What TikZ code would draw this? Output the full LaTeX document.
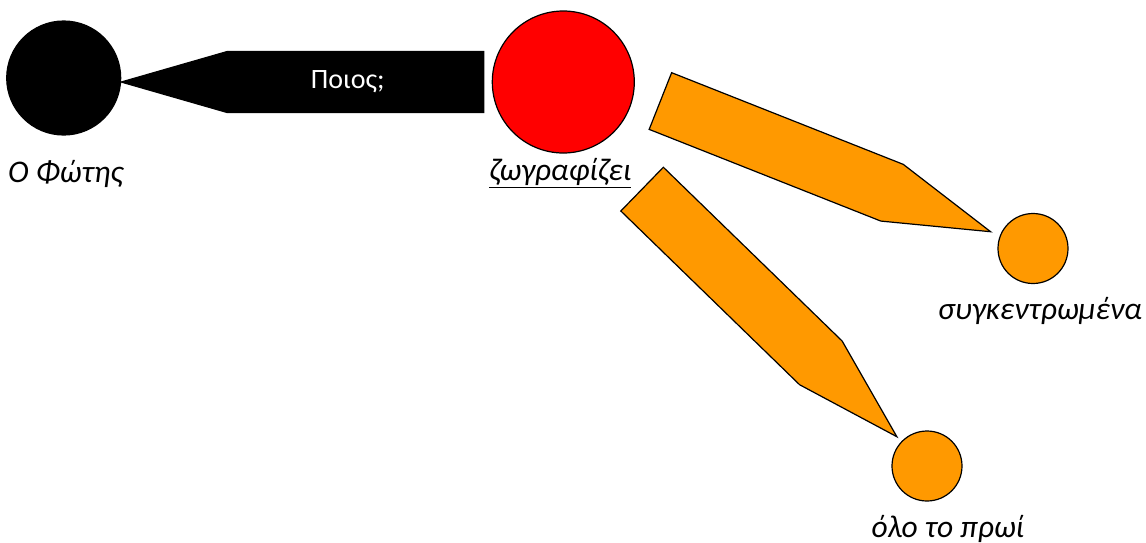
\documentclass[tikz,border=0pt]{standalone}
\usepackage{fontspec}
\setmainfont{Carlito}
\usetikzlibrary{calc,positioning}
\definecolor{amber}{RGB}{255,153,0}

% wedge connector: #1 name, #2 style, #3 from, #4 to, #5 gap at start, #6 gap at end
\newcommand{\wedgelink}[6]{%
  \coordinate (#1-b) at ($(#3)!#5!(#4)$);
  \coordinate (#1-t) at ($(#4)!#6!(#3)$);
  \coordinate (#1-s) at ($(#1-t)!106pt!(#1-b)$);
  \draw[#2] ($(#1-b)!30.5pt!90:(#1-t)$) -- ($(#1-s)!30.5pt!-90:(#1-b)$) -- (#1-t)
    -- ($(#1-s)!30.5pt!90:(#1-b)$) -- ($(#1-b)!30.5pt!-90:(#1-t)$) -- cycle;
}

\begin{document}
\begin{tikzpicture}[
      x=1pt, y=-1pt,
      spot/.style={circle, draw=black, line width=1.2pt, inner sep=0pt},
      lbl/.style={font=\fontsize{31.5}{38}\selectfont\itshape, inner sep=0pt},
      dark/.style={fill=black, draw=black, line width=1.2pt, line join=miter},
      warm/.style={fill=amber, draw=black, line width=1.2pt, line join=miter}
    ]
    \useasboundingbox (0,0) rectangle (1146,542);

    \node[spot, fill=black, minimum size=114pt] (fotis) at (63.7,78) {};
    \node[spot, fill=red, minimum size=142pt] (draws) at (563.3,82) {};
    \node[spot, fill=amber, minimum size=70pt] (focus) at (1033,248.5) {};
    \node[spot, fill=amber, minimum size=70pt] (morning) at (927,466) {};

    \node[lbl, below=25pt of fotis, xshift=2pt] (fotislbl) {Ο Φώτης};
    \node[lbl, below=5pt of draws, xshift=-3pt] (drawslbl) {\underline{ζωγραφίζει}};
    \node[lbl, below=13pt of focus, xshift=7pt] (focuslbl) {συγκεντρωμένα};
    \node[lbl, below=14pt of morning, xshift=21pt] (morninglbl) {όλο το πρωί};

    \wedgelink{who}{dark}{draws.west}{fotis.356}{8pt}{0pt}
    \wedgelink{how}{warm}{draws.353}{focus.center}{28pt}{45.6pt}
    \wedgelink{when}{warm}{draws.298}{morning.center}{63pt}{42pt}

    \node[font=\fontsize{28}{32}\selectfont, text=white] (ask) at ($(who-b)!0.53!(who-s)$) {Ποιος;};
  \end{tikzpicture}
\end{document}
